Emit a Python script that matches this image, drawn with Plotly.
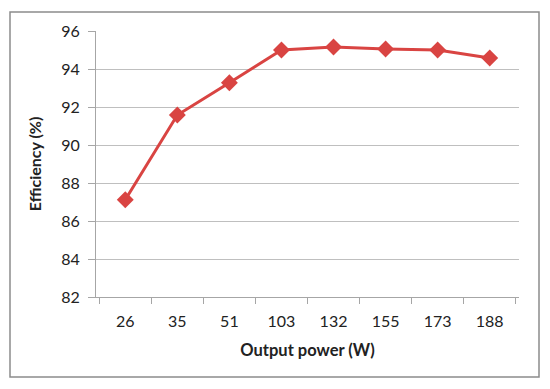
import plotly.graph_objects as go

power_labels = ["26", "35", "51", "103", "132", "155", "173", "188"]
efficiency = [87.12, 91.58, 93.28, 95.0, 95.16, 95.05, 95.0, 94.58]
y_ticks = [82, 84, 86, 88, 90, 92, 94, 96]

# The browser page has an 8px body margin, so the figure is sized to fit the window.
W, H = 542, 381
L, R, T, B = 88, 31, 23, 92
pw, ph = W - L - R, H - T - B

fig = go.Figure()
fig.add_trace(go.Scatter(
    x=power_labels, y=efficiency, mode="lines+markers",
    line=dict(color="#D94442", width=3),
    marker=dict(symbol="diamond", size=13, color="#D94442"),
    showlegend=False,
))

def px2paper_x(px):
    return (px - L) / pw

def px2paper_y(py):
    return (H - B - py) / ph

fig.add_shape(type="rect", xref="paper", yref="paper",
              x0=px2paper_x(2), x1=px2paper_x(531),
              y0=px2paper_y(369), y1=px2paper_y(4),
              line=dict(color="#8C8C8C", width=1.5), layer="below")

fig.update_layout(
    width=W, height=H,
    margin=dict(l=L, r=R, t=T, b=B),
    paper_bgcolor="white", plot_bgcolor="white",
    font=dict(family="Lato, Carlito, sans-serif", size=16, color="#222222"),
    xaxis=dict(
        type="category", tickson="boundaries", ticks="outside", ticklen=6,
        tickcolor="#A6A6A6", showline=True, linecolor="#A6A6A6", linewidth=1,
        showgrid=False, tickfont=dict(size=16), ticklabelstandoff=10,
        title=dict(text="<b>Output power (W)</b>", font=dict(size=16.5), standoff=15),
    ),
    yaxis=dict(
        range=[82, 96], tickvals=y_ticks, ticks="outside", ticklen=7,
        tickcolor="#A6A6A6", showline=True, linecolor="#A6A6A6", linewidth=1,
        showgrid=True, gridcolor="#BFBFBF", gridwidth=1, zeroline=False,
        tickfont=dict(size=16), ticklabelstandoff=5,
        title=dict(text="<b>Efficiency (%)</b>", font=dict(size=16), standoff=15),
    ),
)

fig.write_html("out.html")
